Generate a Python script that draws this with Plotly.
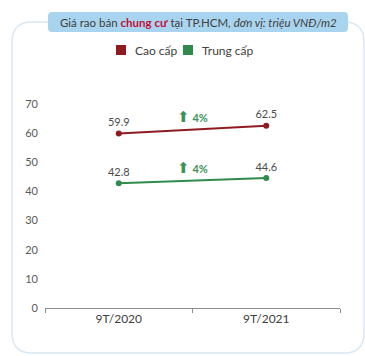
import plotly.graph_objects as go

# Data
periods = ["9T/2020", "9T/2021"]
cao_cap = [59.9, 62.5]
trung_cap = [42.8, 44.6]
series_names = ["Cao cấp", "Trung cấp"]
y_ticks = [0, 10, 20, 30, 40, 50, 60, 70]

RED = "#8e1b22"
GREEN = "#2f8a4c"
ARROW_GREEN = "#3b9157"
TEXT = "#404040"
FONT = "Lato, 'Open Sans', sans-serif"

# Plot-area geometry in pixels (used to place the frame and header decorations)
W, H = 365, 356
ML, MR, MT, MB = 45, 25, 104, 48
PW, PH = W - ML - MR, H - MT - MB


def px(x):
    return (x - ML) / PW


def py(y):
    return (H - MB - y) / PH


fig = go.Figure()

for name, vals, color in [(series_names[0], cao_cap, RED), (series_names[1], trung_cap, GREEN)]:
    fig.add_trace(go.Scatter(
        x=periods, y=vals, name=name,
        mode="lines+markers+text",
        line=dict(color=color, width=2),
        marker=dict(color=color, size=6),
        text=[f"{v:.1f}" for v in vals],
        textposition="top center",
        textfont=dict(family=FONT, size=11, color="#4a4a4a"),
        showlegend=False,
        cliponaxis=False,
    ))

# Growth labels between the two periods
for vals in (cao_cap, trung_cap):
    pct = round((vals[1] / vals[0] - 1) * 100)
    fig.add_annotation(
        x=0.5, y=sum(vals) / 2, xref="x", yref="y",
        text=f"<span style='font-family:DejaVu Sans;font-size:15px'>⬆</span> <b>{pct}%</b>",
        showarrow=False, yshift=13,
        font=dict(family=FONT, size=11, color=ARROW_GREEN),
    )

shapes = []

# Rounded outer frame
def P(x, y):
    return f"{px(x):.5f},{py(y):.5f}"

x0, x1, y0, y1, r = 12, 364, 22, 353, 20
frame = (f"M {P(x0, y0 + r)} L {P(x0, y1 - r)} Q {P(x0, y1)} {P(x0 + r, y1)} "
         f"L {P(x1 - r, y1)} Q {P(x1, y1)} {P(x1, y1 - r)} L {P(x1, y0 + r)} "
         f"Q {P(x1, y0)} {P(x1 - r, y0)} L {P(x0 + r, y0)} Q {P(x0, y0)} {P(x0, y0 + r)} Z")
shapes.append(dict(type="path", xref="paper", yref="paper", path=frame,
                   line=dict(color="#d9e8f4", width=1.5), layer="below"))

# Title box
bx0, bx1, by0, by1, br = 48, 348, 12, 32, 4
box = (f"M {P(bx0, by0 + br)} L {P(bx0, by1 - br)} Q {P(bx0, by1)} {P(bx0 + br, by1)} "
       f"L {P(bx1 - br, by1)} Q {P(bx1, by1)} {P(bx1, by1 - br)} L {P(bx1, by0 + br)} "
       f"Q {P(bx1, by0)} {P(bx1 - br, by0)} L {P(bx0 + br, by0)} Q {P(bx0, by0)} {P(bx0, by0 + br)} Z")
shapes.append(dict(type="path", xref="paper", yref="paper", path=box,
                   fillcolor="#a9d4ef", line=dict(width=0), layer="below"))

# Legend squares
for sx, color in [(116, RED), (183, GREEN)]:
    shapes.append(dict(type="rect", xref="paper", yref="paper",
                       x0=px(sx), x1=px(sx + 10), y0=py(55), y1=py(45),
                       fillcolor=color, line=dict(width=0)))

fig.update_layout(shapes=shapes)

# Title
fig.add_annotation(
    xref="paper", yref="paper", x=px(198), y=py(22),
    xanchor="center", yanchor="middle", showarrow=False,
    text=("Giá rao bán <b><span style='color:#c0103a'>chung cư</span></b> tại TP.HCM, "
          "<i>đơn vị: triệu VNĐ/m2</i>"),
    font=dict(family=FONT, size=11.5, color=TEXT),
)

# Legend labels
for lx, name in [(133, series_names[0]), (200, series_names[1])]:
    fig.add_annotation(
        xref="paper", yref="paper", x=px(lx), y=py(50),
        xanchor="left", yanchor="middle", showarrow=False,
        text=name, font=dict(family=FONT, size=12, color=TEXT),
    )

fig.update_layout(
    width=W, height=H,
    margin=dict(l=ML, r=MR, t=MT, b=MB, autoexpand=False),
    paper_bgcolor="white", plot_bgcolor="white",
    showlegend=False,
    xaxis=dict(
        type="category", range=[-0.5, 1.5],
        showline=True, linecolor="#8c8c8c", linewidth=1,
        ticks="outside", tickson="boundaries", ticklen=4, tickcolor="#8c8c8c",
        showgrid=False, zeroline=False,
        tickfont=dict(family=FONT, size=12, color=TEXT),
    ),
    yaxis=dict(
        range=[0, 70], tickvals=y_ticks,
        showline=False, showgrid=False, zeroline=False, ticks="",
        ticklabelstandoff=6,
        tickfont=dict(family=FONT, size=11, color="#595959"),
    ),
)

fig.write_html("out.html")
